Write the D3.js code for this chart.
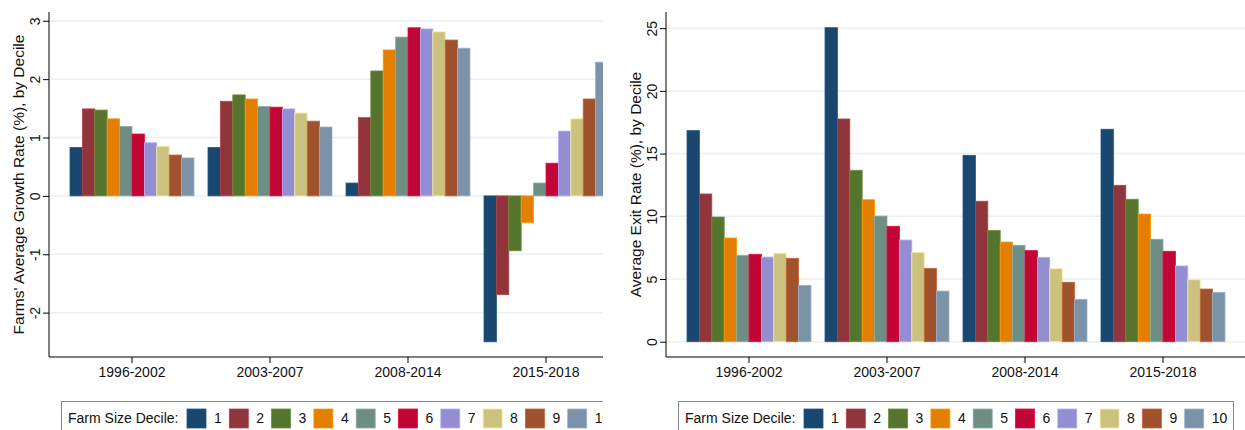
<!DOCTYPE html>
<html>
<head>
<meta charset="utf-8">
<script src="https://cdn.jsdelivr.net/npm/d3@7"></script>
<style>
  html, body { margin: 0; padding: 0; background: #fff; }
  svg { display: block; font-family: "Liberation Sans", Arial, sans-serif; }
</style>
</head>
<body>
<svg id="chart" width="1245" height="430"></svg>
<script>
// ---------- data ----------
const periods = ["1996-2002", "2003-2007", "2008-2014", "2015-2018"];
const deciles = ["1", "2", "3", "4", "5", "6", "7", "8", "9", "10"];
const decileColors = ["#1a476f", "#90353b", "#55752f", "#e37e00", "#6e8e84",
                      "#c10534", "#938dd2", "#cac27e", "#a0522d", "#7b92a8"];

// Farms' average growth rate (%), by decile
const growth_1996_2002 = [0.83, 1.49, 1.47, 1.32, 1.19, 1.06, 0.91, 0.85, 0.70, 0.65];
const growth_2003_2007 = [0.83, 1.62, 1.73, 1.66, 1.53, 1.52, 1.49, 1.42, 1.28, 1.18];
const growth_2008_2014 = [0.22, 1.34, 2.14, 2.50, 2.72, 2.88, 2.86, 2.81, 2.67, 2.53];
const growth_2015_2018 = [-2.50, -1.69, -0.94, -0.46, 0.22, 0.56, 1.11, 1.32, 1.66, 2.29];

// Average exit rate (%), by decile
const exit_1996_2002 = [16.83, 11.78, 9.94, 8.27, 6.89, 6.97, 6.75, 7.05, 6.65, 4.50];
const exit_2003_2007 = [25.04, 17.76, 13.67, 11.32, 10.02, 9.20, 8.11, 7.13, 5.85, 4.04];
const exit_2008_2014 = [14.86, 11.20, 8.88, 7.95, 7.69, 7.26, 6.73, 5.82, 4.74, 3.38];
const exit_2015_2018 = [16.94, 12.47, 11.36, 10.18, 8.17, 7.21, 6.04, 4.94, 4.20, 3.94];

const growthTicks = [-2, -1, 0, 1, 2, 3];
const exitTicks = [0, 5, 10, 15, 20, 25];

const legendTitle = "Farm Size Decile:";
const growthTitle = "Farms' Average Growth Rate (%), by Decile";
const exitTitle = "Average Exit Rate (%), by Decile";

// ---------- layout ----------
const svg = d3.select("#chart");
const axisX = 49, plotRight = 628, plotTop = 12, plotBottom = 357;

svg.append("defs").append("clipPath").attr("id", "leftClip")
  .append("rect").attr("x", 0).attr("y", 0).attr("width", 603).attr("height", 430);

function drawPanel(g, series, domain, ticks, title) {
  const y = d3.scaleLinear().domain(domain).range([plotBottom, plotTop]);
  const x0 = d3.scaleBand().domain(periods)
    .range([axisX + 14, axisX + 14 + 552])
    .paddingInner(14 / 138).paddingOuter(7 / 138);
  const x1 = d3.scaleBand().domain(deciles).range([0, x0.bandwidth()]).padding(0);

  // gridlines
  g.append("g").selectAll("line").data(ticks).join("line")
    .attr("x1", axisX).attr("x2", plotRight)
    .attr("y1", d => y(d)).attr("y2", d => y(d))
    .attr("stroke", "#e9f0f1").attr("stroke-width", 1.5);

  // bars
  const groups = g.append("g").selectAll("g").data(periods).join("g")
    .attr("transform", p => `translate(${x0(p)},0)`);
  groups.selectAll("rect")
    .data((p, i) => series[i].map((v, j) => ({ v, j })))
    .join("rect")
    .attr("x", d => x1(deciles[d.j]))
    .attr("width", x1.bandwidth())
    .attr("y", d => Math.min(y(d.v), y(0)))
    .attr("height", d => Math.abs(y(d.v) - y(0)))
    .attr("fill", d => decileColors[d.j])
    .attr("stroke", d => d3.color(decileColors[d.j]).brighter(0.6))
    .attr("stroke-width", 0.8);

  // y axis
  const yAxis = d3.axisLeft(y).tickValues(ticks).tickSize(6).tickPadding(3).tickFormat(d => String(d));
  const ya = g.append("g").attr("transform", `translate(${axisX},0)`).call(yAxis);
  ya.select(".domain").attr("d", `M0,${plotTop}V${plotBottom}`).attr("stroke", "#000");
  ya.selectAll(".tick line").attr("stroke", "#000");
  ya.selectAll(".tick text")
    .attr("x", null).attr("dy", null)
    .attr("transform", "translate(-9,0) rotate(-90)")
    .attr("text-anchor", "middle")
    .attr("font-size", 14).attr("fill", "#111")
    .attr("font-family", "Liberation Sans, Arial, sans-serif");

  // x axis
  const xAxis = d3.axisBottom(x0).tickSize(6).tickPadding(4);
  const xa = g.append("g").attr("transform", `translate(0,${plotBottom})`).call(xAxis);
  xa.select(".domain").attr("d", `M${axisX},0H${plotRight}`).attr("stroke", "#000");
  xa.selectAll(".tick line").attr("stroke", "#000");
  xa.selectAll(".tick text")
    .attr("dy", null).attr("y", 20)
    .attr("font-size", 14).attr("fill", "#111")
    .attr("font-family", "Liberation Sans, Arial, sans-serif");

  // y title
  g.append("text")
    .attr("transform", `translate(24,${(plotTop + plotBottom) / 2}) rotate(-90)`)
    .attr("text-anchor", "middle")
    .attr("font-size", 15.5).attr("fill", "#111")
    .text(title);

  // legend
  const lg = g.append("g");
  lg.append("rect").attr("x", 61.5).attr("y", 401.5).attr("width", 555).attr("height", 40)
    .attr("fill", "#fff").attr("stroke", "#8a8a8a").attr("stroke-width", 1);
  lg.append("text").attr("x", 68).attr("y", 423).attr("font-size", 14).attr("fill", "#111")
    .text(legendTitle);
  const items = lg.selectAll("g.item").data(deciles).join("g")
    .attr("class", "item")
    .attr("transform", (d, i) => `translate(${187 + i * 42.3},0)`);
  items.append("rect").attr("x", 0).attr("y", 409).attr("width", 19).attr("height", 19)
    .attr("fill", (d, i) => decileColors[i])
    .attr("stroke", (d, i) => d3.color(decileColors[i]).brighter(0.6)).attr("stroke-width", 0.8);
  items.append("text").attr("x", 27).attr("y", 423).attr("font-size", 14).attr("fill", "#111")
    .text(d => d);
}

const left = svg.append("g").attr("clip-path", "url(#leftClip)").append("g");
drawPanel(left, [growth_1996_2002, growth_2003_2007, growth_2008_2014, growth_2015_2018],
  [-2.76, 3.15], growthTicks, growthTitle);

const right = svg.append("g").attr("transform", "translate(617,0)");
drawPanel(right, [exit_1996_2002, exit_2003_2007, exit_2008_2014, exit_2015_2018],
  [-1.22, 26.29], exitTicks, exitTitle);
</script>
</body>
</html>
